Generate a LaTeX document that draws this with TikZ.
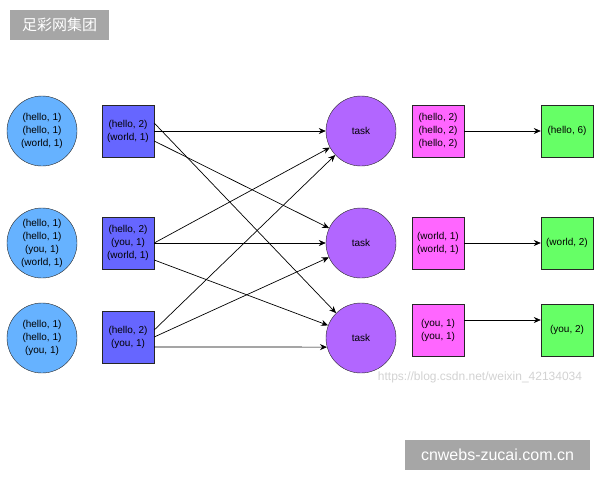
\documentclass[tikz,border=0pt]{standalone}
\usepackage{fontspec}
\setmainfont{Liberation Sans}
\newfontfamily\cjk{Noto Sans CJK SC}
\usepackage{xcolor}
\usetikzlibrary{positioning, arrows.meta}
\definecolor{srcblue}{HTML}{66B2FF}
\definecolor{partblue}{HTML}{6666FF}
\definecolor{taskpurple}{HTML}{B266FF}
\definecolor{grpmagenta}{HTML}{FF66FF}
\definecolor{resgreen}{HTML}{66FF66}
\definecolor{tagbg}{HTML}{A6A6A6}

\begin{document}
\begin{tikzpicture}[x=1pt, y=-1pt, font=\fontsize{10}{13}\selectfont,
  src/.style={circle, draw=black!85, fill=srcblue, minimum size=70pt, inner sep=0pt, align=center},
  part/.style={rectangle, draw=black!85, fill=partblue, minimum size=52pt, inner sep=0pt, align=center},
  task/.style={circle, draw=black!85, fill=taskpurple, minimum size=70pt, inner sep=0pt},
  grp/.style={rectangle, draw=black!85, fill=grpmagenta, minimum size=52pt, inner sep=0pt, align=center},
  res/.style={rectangle, draw=black!85, fill=resgreen, minimum size=52pt, inner sep=0pt, align=center},
  arr/.style={-{Stealth[length=7pt,width=6pt]}, line width=0.7pt},
  tag/.style={fill=tagbg, text=white, minimum height=30pt, inner sep=0pt}]
\useasboundingbox (0,0) rectangle (600,480);
% input splits
\node[src] (s1) at (42,131) {(hello, 1)\\(hello, 1)\\(world, 1)};
\node[src] (s2) at (42,243) {(hello, 1)\\(hello, 1)\\(you, 1)\\(world, 1)};
\node[src] (s3) at (42,338) {(hello, 1)\\(hello, 1)\\(you, 1)};
% combined map output
\node[part] (b1) at (128,131) {(hello, 2)\\(world, 1)};
\node[part] (b2) at (128,243) {(hello, 2)\\(you, 1)\\(world, 1)};
\node[part] (b3) at (128,337) {(hello, 2)\\(you, 1)};
% reduce tasks
\node[task] (t1) at (361,131) {task};
\node[task] (t2) at (361,243) {task};
\node[task] (t3) at (361,338) {task};
% grouped by key
\node[grp] (m1) at (438,131) {(hello, 2)\\(hello, 2)\\(hello, 2)};
\node[grp] (m2) at (438,243) {(world, 1)\\(world, 1)};
\node[grp] (m3) at (438,330) {(you, 1)\\(you, 1)};
% results
\node[res] (g1) at (567,131) {(hello, 6)};
\node[res] (g2) at (567,243) {(world, 2)};
\node[res] (g3) at (567,330) {(you, 2)};
% shuffle
\draw[arr] (b1.east) -- (t1.west);
\draw[arr] ([yshift=8pt]b1.east) -- (t3.135);
\draw[arr] ([yshift=-10pt]b1.east) -- (t2.155);
\draw[arr] (b2.east) -- (t1.208);
\draw[arr] (b2.east) -- (t2.west);
\draw[arr] ([yshift=-17pt]b2.east) -- (t3.159);
\draw[arr] ([yshift=7pt]b3.east) -- (t1.223);
\draw[arr] (b3.east) -- (t2.204);
\draw[arr] ([yshift=-10pt]b3.east) -- (t3.195);
% reduce
\draw[arr] (m1.east) -- (g1.west);
\draw[arr] (m2.east) -- (g2.west);
\draw[arr] ([yshift=10pt]m3.east) -- ([yshift=10pt]g3.west);
% watermark and tags
\node[text=gray!35, font=\fontsize{12}{14}\selectfont] (wm) at (480,377) {https://blog.csdn.net/weixin\_42134034};
\node[tag, minimum width=99pt, font=\cjk\fontsize{15}{18}\selectfont] (hd) at (59.5,25) {足彩网集团};
\node[tag, minimum width=185pt, font=\fontsize{16}{18}\selectfont] (ft) at (497.5,455) {cnwebs-zucai.com.cn};
\end{tikzpicture}
\end{document}
